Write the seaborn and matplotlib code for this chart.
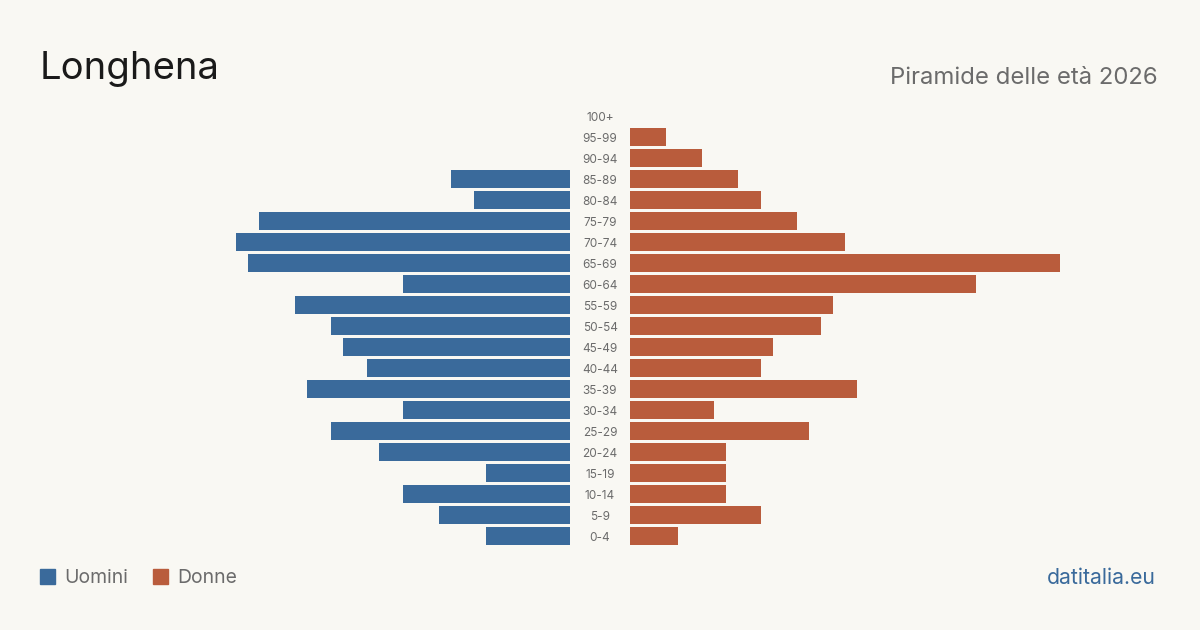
import matplotlib
matplotlib.use('Agg')
import matplotlib.pyplot as plt
import matplotlib.transforms as mtransforms
from matplotlib.patches import Rectangle
import seaborn as sns
import pandas as pd

sns.set_theme(style='white')
plt.rcParams['font.family'] = ['Inter', 'DejaVu Sans']

ages = ['100+', '95-99', '90-94', '85-89', '80-84', '75-79', '70-74', '65-69',
        '60-64', '55-59', '50-54', '45-49', '40-44', '35-39', '30-34', '25-29',
        '20-24', '15-19', '10-14', '5-9', '0-4']
uomini = [0, 0, 0, 10, 8, 26, 28, 27, 14, 23, 20, 19, 17, 22, 14, 20, 16, 7, 14, 11, 7]
donne = [0, 3, 6, 9, 11, 14, 18, 36, 29, 17, 16, 12, 11, 19, 7, 15, 8, 8, 8, 11, 4]

blue = '#3a6a9b'
orange = '#b95c3c'
bg = '#f9f8f3'
grey = '#6b6b6b'

df = pd.DataFrame({'age': ages, 'Uomini': uomini, 'Donne': donne})

W, H = 1200, 630
fig = plt.figure(figsize=(12, 6.3), dpi=100, facecolor=bg)

xmax = 36
span = 430
top_px, bot_px = 105.5, 546.5
ax_l = fig.add_axes([(570 - span) / W, (H - bot_px) / H, span / W, (bot_px - top_px) / H])
ax_r = fig.add_axes([630 / W, (H - bot_px) / H, span / W, (bot_px - top_px) / H])

sns.barplot(data=df, y='age', x='Uomini', order=ages, orient='h', color=blue,
            width=0.81, saturation=1, linewidth=0, ax=ax_l)
sns.barplot(data=df, y='age', x='Donne', order=ages, orient='h', color=orange,
            width=0.81, saturation=1, linewidth=0, ax=ax_r)

ax_l.set_xlim(xmax, 0)
ax_r.set_xlim(0, xmax)
for ax in (ax_l, ax_r):
    ax.set_ylim(len(ages) - 0.5, -0.5)
    ax.set_facecolor('none')
    ax.set_xlabel('')
    ax.set_ylabel('')
    ax.set_xticks([])
    ax.set_yticks([])
    sns.despine(ax=ax, left=True, bottom=True)

# age labels in the gap between the two halves
trans = mtransforms.blended_transform_factory(fig.transFigure, ax_r.transData)
for i, a in enumerate(ages):
    fig.text(0.5, i + 0.08, a, transform=trans, ha='center', va='center',
             fontsize=8.5, color=grey)

fig.text(40 / W, 1 - 69 / H, 'Longhena', fontsize=27.5, color='#1a1a1a',
         ha='left', va='center')
fig.text(1158 / W, 1 - 78 / H, 'Piramide delle età 2026', fontsize=17.2,
         color=grey, ha='right', va='center')

fig.patches.append(Rectangle((40 / W, 1 - 584 / H), 15 / W, 15 / H,
                             transform=fig.transFigure, color=blue))
fig.text(64 / W, 1 - 578 / H, 'Uomini', fontsize=13.9, color=grey,
         ha='left', va='center')
fig.patches.append(Rectangle((153 / W, 1 - 584 / H), 15 / W, 15 / H,
                             transform=fig.transFigure, color=orange))
fig.text(177 / W, 1 - 578 / H, 'Donne', fontsize=13.9, color=grey,
         ha='left', va='center')

fig.text(1156 / W, 1 - 578 / H, 'datitalia.eu', fontsize=15.3, color=blue,
         ha='right', va='center')

fig.savefig('out.png', dpi=100, facecolor=bg)
